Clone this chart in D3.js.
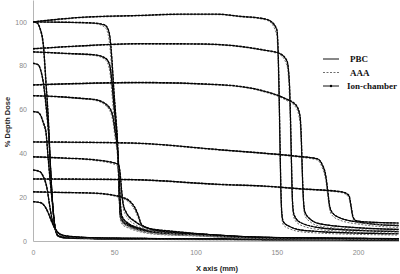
<!DOCTYPE html>
<html>
<head>
<meta charset="utf-8">
<script src="https://cdn.jsdelivr.net/npm/d3@7"></script>
<style>
  html, body { margin: 0; padding: 0; background: #fff; }
  #chart { width: 400px; height: 274px; }
</style>
</head>
<body>
<div id="chart"></div>
<script>
// ---- data (x in mm, dose in %) ----
const seriesNames = ['PBC', 'AAA', 'Ion-chamber'];
const xTicks = [0, 50, 100, 150, 200];
const yTicks = [0, 20, 40, 60, 80, 100];

// small field
const xS100 = [0, 2.5, 4.3, 6.3, 8.0, 9.8, 10.5, 11.7, 13.5, 15.4, 19.7, 41, 103, 225];
const pbcS100 = [100, 99.5, 97, 90, 72, 50, 38, 21, 6.5, 2.3, 1.5, 1.1, 0.8, 0.5];
const aaaS100 = [100, 99.4, 96.5, 88, 69, 48, 36, 20, 6, 2.1, 1.3, 0.9, 0.6, 0.4];
const ionS100 = [100, 99.6, 97.2, 90.5, 73, 51, 38.5, 21.5, 6.8, 2.4, 1.5, 1.1, 0.8, 0.5];

const xS81 = [0, 3.1, 4.9, 6.3, 8.0, 9.8, 10.5, 11.7, 13.5, 15.4, 19.7, 41, 103, 225];
const pbcS81 = [81, 80.5, 77.5, 72.5, 62, 47, 37, 21, 6.5, 2.3, 1.5, 1.1, 0.8, 0.5];
const aaaS81 = [81, 80.3, 77, 71.5, 60, 45, 35, 20, 6, 2.1, 1.3, 0.9, 0.6, 0.4];
const ionS81 = [81.2, 80.6, 77.8, 73, 62.5, 47.5, 37.5, 21.5, 6.7, 2.4, 1.5, 1.1, 0.8, 0.5];

const xS59 = [0, 3.1, 4.9, 6.3, 8.0, 9.2, 10.5, 11.7, 13.5, 15.4, 19.7, 41, 103, 225];
const pbcS59 = [59, 58.7, 57, 54, 49.5, 39, 28, 19, 6.5, 2.4, 1.5, 1.1, 0.8, 0.5];
const aaaS59 = [59, 58.5, 56.6, 53.2, 48, 37.5, 26.5, 18, 6, 2.2, 1.3, 0.9, 0.6, 0.4];
const ionS59 = [59.2, 58.8, 57.2, 54.3, 50, 39.5, 28.5, 19.5, 6.7, 2.5, 1.5, 1.1, 0.8, 0.5];

const xS32 = [0, 4.3, 6.3, 8.4, 10.5, 12.5, 15.4, 19.7, 41, 103, 225];
const pbcS32 = [32.4, 31.6, 29.4, 24.8, 15, 7.3, 3.7, 2.2, 1.4, 1, 0.6];
const aaaS32 = [32.2, 31.4, 29, 24, 14.2, 6.8, 3.4, 2, 1.2, 0.8, 0.5];
const ionS32 = [32.5, 31.7, 29.6, 25.1, 15.3, 7.5, 3.8, 2.2, 1.4, 1, 0.6];

const xS18 = [0, 3, 5.4, 7.4, 9.4, 11.5, 13.5, 15.6, 19.7, 28.9, 41, 103, 225];
const pbcS18 = [17.9, 17.7, 17.2, 15.7, 12.8, 8.8, 5.9, 3.7, 2.5, 1.8, 1.4, 1, 0.6];
const aaaS18 = [17.8, 17.6, 17, 15.3, 12.3, 8.3, 5.5, 3.4, 2.3, 1.6, 1.2, 0.8, 0.5];
const ionS18 = [18, 17.8, 17.3, 15.8, 13, 9, 6, 3.8, 2.5, 1.8, 1.4, 1, 0.6];

// medium field
const xM100 = [0, 20, 38.2, 44.3, 46.3, 47.4, 48.6, 49.8, 51.1, 52, 52.6, 53.2, 53.8, 55.4, 58.5, 65.8, 75.1, 102.8, 133.5, 164.3, 225];
const pbcM100 = [100, 99.8, 99.4, 98.5, 96.4, 92.7, 82, 68, 55, 45, 32, 18, 11, 8.5, 7, 5, 3.8, 2.8, 1.5, 1.2, 0.9];
const aaaM100 = [100, 99.7, 99.2, 97.5, 94, 88, 76, 62, 50, 41, 29, 16, 9.5, 7.2, 6, 4.2, 3.1, 2.2, 1.1, 0.9, 0.7];
const ionM100 = [100, 99.9, 99.5, 98.6, 96.6, 93, 83, 69, 56, 46, 33, 19, 11.5, 8.8, 7.2, 5.1, 3.9, 2.8, 1.5, 1.2, 0.9];

const xM86 = [0, 20, 38.2, 44.3, 46.3, 47.4, 48.6, 49.8, 51.1, 52, 52.6, 53.2, 53.8, 55.4, 58.5, 65.8, 75.1, 102.8, 133.5, 164.3, 225];
const pbcM86 = [86.3, 85.6, 84.9, 83.5, 81.9, 79.5, 72, 62, 52, 43, 32, 19, 12, 9, 7.5, 5.3, 4, 2.9, 1.6, 1.3, 1];
const aaaM86 = [86.1, 85.4, 84.6, 82.8, 80.5, 76.5, 67, 57, 48, 39.5, 29, 17, 10.5, 7.8, 6.5, 4.5, 3.3, 2.3, 1.2, 1, 0.8];
const ionM86 = [86.4, 85.7, 85, 83.6, 82, 79.8, 72.5, 62.5, 52.5, 43.5, 32.5, 19.5, 12.3, 9.2, 7.6, 5.4, 4.1, 2.9, 1.6, 1.3, 1];

const xM66 = [0, 16.6, 30.9, 38.2, 45.3, 48.4, 49.4, 50.5, 51.7, 52.6, 53.2, 53.8, 54.8, 58.5, 65.8, 75.1, 102.8, 133.5, 164.3, 225];
const pbcM66 = [66.3, 65.8, 65, 64.5, 62.1, 58.8, 55.8, 50, 44, 36, 27, 17, 11, 8, 5.8, 4.3, 3, 1.7, 1.3, 1];
const aaaM66 = [66.1, 65.6, 64.8, 64.2, 61.4, 57.2, 53.5, 47, 41, 33, 24.5, 15, 9.8, 7, 5, 3.6, 2.4, 1.3, 1, 0.8];
const ionM66 = [66.4, 65.9, 65.1, 64.6, 62.3, 59, 56.2, 50.5, 44.5, 36.5, 27.5, 17.5, 11.3, 8.2, 5.9, 4.4, 3, 1.7, 1.3, 1];

const xM38 = [0, 20, 38.2, 52.5, 53.5, 54.6, 55.6, 57.6, 62.8, 71, 84.3, 102.8, 133.5, 164.3, 225];
const pbcM38 = [38.4, 37.8, 37, 35, 31.6, 22.5, 16.4, 12.6, 8.8, 5.8, 4.5, 3.3, 1.9, 1.4, 1.1];
const aaaM38 = [38.2, 37.6, 36.7, 34.3, 30, 20.5, 14.8, 11.2, 7.6, 5, 3.8, 2.7, 1.5, 1.1, 0.9];
const ionM38 = [38.5, 37.9, 37.1, 35.1, 31.9, 23, 16.8, 12.9, 9, 5.9, 4.6, 3.3, 1.9, 1.4, 1.1];

const xM22 = [0, 20, 38.2, 53.5, 59.7, 62.8, 64.6, 66.9, 72, 78.2, 102.8, 133.5, 164.3, 225];
const pbcM22 = [22.4, 22.1, 21.8, 20.2, 18, 14.9, 11.9, 7.3, 5.5, 4.6, 3.2, 1.9, 1.4, 1.1];
const aaaM22 = [22.3, 22, 21.6, 19.8, 17.2, 13.8, 10.8, 6.5, 4.8, 4, 2.7, 1.6, 1.1, 0.9];
const ionM22 = [22.5, 22.2, 21.9, 20.3, 18.2, 15.2, 12.2, 7.5, 5.6, 4.7, 3.2, 1.9, 1.4, 1.1];

// large field
const xL100 = [0, 10.5, 28.9, 65.8, 90.5, 113.2, 127.4, 141.5, 145.8, 150, 150.8, 151.4, 152, 152.6, 153.2, 154.2, 158.2, 163.1, 176.6, 201.2, 225];
const pbcL100 = [100, 100.8, 102, 102.9, 103.5, 103.5, 102.5, 101.5, 100.5, 96.5, 88, 70, 45, 22, 12, 8.5, 6.5, 5.2, 4.3, 3.6, 3.3];
const aaaL100 = [100, 100.6, 101.8, 102.7, 103.3, 103.3, 102.3, 101.2, 100, 94, 82, 62, 38, 18, 10, 7.2, 5.5, 4.4, 3.6, 3, 2.7];
const ionL100 = [100, 100.9, 102.1, 103, 103.6, 103.6, 102.6, 101.6, 100.6, 96.8, 88.5, 71, 46, 23, 12.4, 8.7, 6.6, 5.3, 4.3, 3.6, 3.3];

const xL88 = [0, 28.9, 65.8, 102.8, 141.5, 152, 156.3, 157.8, 158.5, 159.1, 159.7, 160.6, 164.3, 176.6, 201.2, 225];
const pbcL88 = [87.7, 89, 90, 89.9, 87.2, 85.5, 82, 72, 55, 35, 18, 12, 8.5, 6, 4.8, 4.3];
const aaaL88 = [87.5, 88.8, 89.8, 89.7, 87, 85, 80, 66, 48, 29, 15, 10.5, 7.4, 5.2, 4.1, 3.6];
const ionL88 = [87.8, 89.1, 90.1, 90, 87.3, 85.6, 82.3, 72.5, 56, 36, 18.5, 12.2, 8.6, 6.1, 4.8, 4.3];

const xL71 = [0, 65.8, 117, 141.5, 155.1, 161.8, 164.3, 165.2, 165.8, 166.5, 167.4, 170.5, 176.6, 201.2, 225];
const pbcL71 = [71.2, 72.3, 71.2, 68.5, 65, 62, 57, 45, 30, 18, 13, 10, 7.8, 6, 5.3];
const aaaL71 = [71, 72.1, 71, 68.2, 64.5, 61, 54, 41, 27, 16, 11.5, 8.8, 6.8, 5.2, 4.6];
const ionL71 = [71.3, 72.4, 71.3, 68.6, 65.1, 62.2, 57.5, 46, 31, 18.5, 13.2, 10.1, 7.9, 6, 5.3];

const xL45 = [0, 59.7, 115.1, 142.8, 164.3, 174.8, 177.8, 180.3, 181.5, 182.5, 184, 188.9, 201.2, 225];
const pbcL45 = [45.2, 44.7, 41.6, 40, 38.5, 37.5, 35, 29, 22, 16, 13, 10.5, 8.5, 7];
const aaaL45 = [45, 44.5, 41.4, 39.8, 38.2, 37, 33.8, 27, 20, 14.5, 11.8, 9.5, 7.6, 6.2];
const ionL45 = [45.3, 44.8, 41.7, 40.1, 38.6, 37.6, 35.3, 29.5, 22.5, 16.4, 13.2, 10.6, 8.5, 7];

const xL28 = [0, 59.7, 115.1, 142.8, 164.3, 188.9, 192, 194.5, 195.7, 196.9, 198.8, 207.4, 225];
const pbcL28 = [28.3, 28, 25.8, 25, 23.8, 22.5, 22, 20.5, 16, 11, 9.2, 8.6, 8.2];
const aaaL28 = [28.1, 27.8, 25.6, 24.8, 23.6, 22.2, 21.5, 19.5, 14.8, 10.2, 8.5, 7.8, 7.4];
const ionL28 = [28.4, 28.1, 25.9, 25.1, 23.9, 22.6, 22.1, 20.8, 16.5, 11.3, 9.3, 8.6, 8.2];

const profiles = [
  [xS100, pbcS100, aaaS100, ionS100],
  [xS81, pbcS81, aaaS81, ionS81],
  [xS59, pbcS59, aaaS59, ionS59],
  [xS32, pbcS32, aaaS32, ionS32],
  [xS18, pbcS18, aaaS18, ionS18],
  [xM100, pbcM100, aaaM100, ionM100],
  [xM86, pbcM86, aaaM86, ionM86],
  [xM66, pbcM66, aaaM66, ionM66],
  [xM38, pbcM38, aaaM38, ionM38],
  [xM22, pbcM22, aaaM22, ionM22],
  [xL100, pbcL100, aaaL100, ionL100],
  [xL88, pbcL88, aaaL88, ionL88],
  [xL71, pbcL71, aaaL71, ionL71],
  [xL45, pbcL45, aaaL45, ionL45],
  [xL28, pbcL28, aaaL28, ionL28],
];

// ---- chart ----
const margin = { top: 0, right: 1.4, bottom: 33, left: 33 };
const width = 400 - margin.left - margin.right;
const height = 274 - margin.top - margin.bottom;

const svg = d3
  .select('#chart')
  .append('svg')
  .attr('width', 400)
  .attr('height', 274)
  .style('font-family', '"Liberation Sans", Arial, sans-serif');

const group = svg
  .append('g')
  .attr('transform', 'translate(' + margin.left + ',' + margin.top + ')');

const x = d3.scaleLinear().domain([0, 225]).range([0, width]);
const y = d3.scaleLinear().domain([0, 110]).range([height, 0]);

// axes
const xAxis = group
  .append('g')
  .attr('transform', 'translate(0,' + height + ')')
  .call(d3.axisBottom(x).tickValues(xTicks).tickSize(0).tickPadding(9));
const yAxis = group
  .append('g')
  .call(d3.axisLeft(y).tickValues(yTicks).tickSize(0).tickPadding(6));

[xAxis, yAxis].forEach((a) => {
  a.select('.domain').attr('stroke', '#b5b5b5').attr('stroke-width', 1);
  a.selectAll('text').attr('fill', '#8a8a8a').style('font-size', '7px');
});

// curves
const line = (xs) =>
  d3
    .line()
    .x((d, i) => x(xs[i]))
    .y((d) => y(d))
    .curve(d3.curveMonotoneX);

const curves = group.append('g');
profiles.forEach(([xs, pbc, aaa, ion]) => {
  curves
    .append('path')
    .attr('d', line(xs)(aaa))
    .attr('fill', 'none')
    .attr('stroke', '#6e6e6e')
    .attr('stroke-width', 1)
    .attr('stroke-dasharray', '2,1.5');
  curves
    .append('path')
    .attr('d', line(xs)(pbc))
    .attr('fill', 'none')
    .attr('stroke', '#111')
    .attr('stroke-width', 1.1);
  curves
    .append('path')
    .attr('d', line(xs)(ion))
    .attr('fill', 'none')
    .attr('stroke', '#000')
    .attr('stroke-width', 1.2)
    .attr('stroke-dasharray', '2.5,1');
});

// axis titles
svg
  .append('text')
  .attr('x', 217)
  .attr('y', 271)
  .attr('text-anchor', 'middle')
  .attr('font-weight', 'bold')
  .style('font-size', '7.5px')
  .attr('fill', '#222')
  .text('X axis (mm)');

svg
  .append('text')
  .attr('transform', 'translate(10,122) rotate(-90)')
  .attr('text-anchor', 'middle')
  .attr('font-weight', 'bold')
  .style('font-size', '7.5px')
  .attr('fill', '#222')
  .text('% Depth Dose');

// legend
const legendX = 323;
const legendY = 59;
const legend = svg
  .selectAll('.legend')
  .data(seriesNames)
  .join('g')
  .attr('class', 'legend')
  .attr('transform', (d, i) => 'translate(' + legendX + ',' + (legendY + i * 13.5) + ')');

legend
  .append('line')
  .attr('x1', 0)
  .attr('x2', 16)
  .attr('stroke', (d, i) => (i === 1 ? '#6e6e6e' : '#111'))
  .attr('stroke-width', 1)
  .attr('stroke-dasharray', (d, i) => (i === 1 ? '2,1.5' : null));

legend
  .filter((d, i) => i === 2)
  .append('circle')
  .attr('cx', 8)
  .attr('r', 1.2)
  .attr('fill', '#000');

legend
  .append('text')
  .attr('x', (d, i) => (i === 2 ? 24 : 27))
  .attr('dy', '0.35em')
  .attr('font-family', '"Liberation Serif", "Times New Roman", serif')
  .attr('font-weight', 'bold')
  .style('font-size', '9px')
  .attr('fill', '#111')
  .text((d) => d);
</script>
</body>
</html>
